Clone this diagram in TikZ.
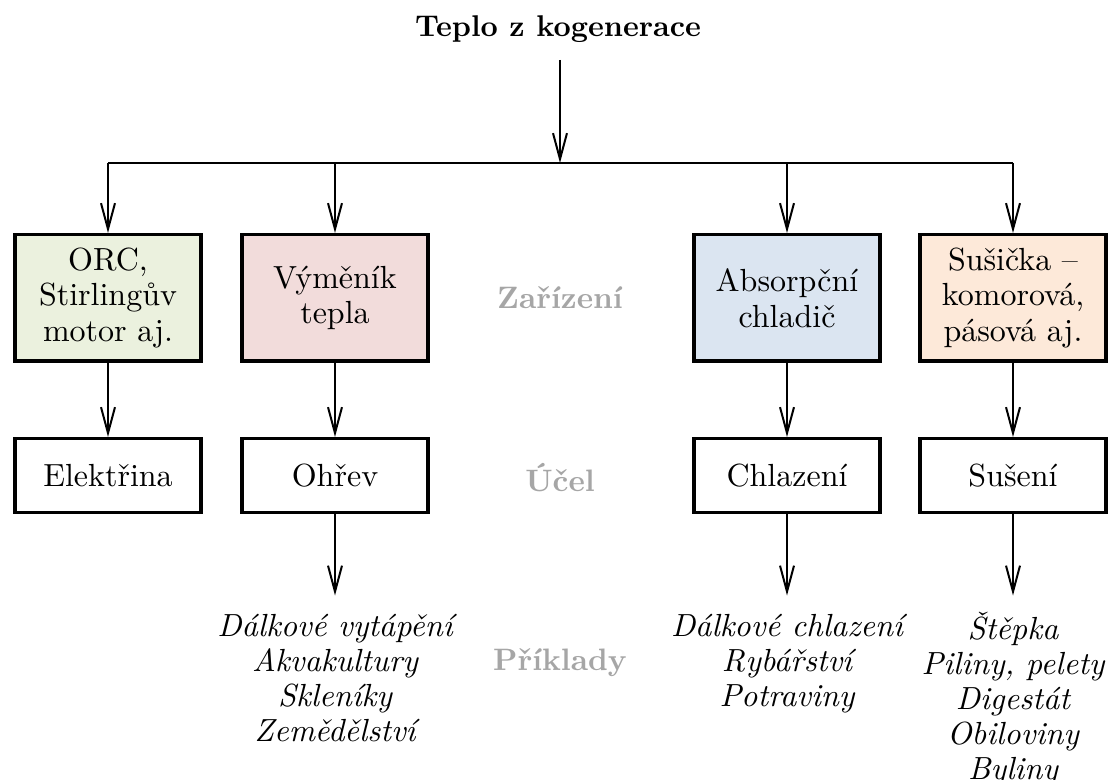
\documentclass[tikz,border=0pt]{standalone}
\usepackage{fontspec}
\setmainfont{lmroman10-regular.otf}[BoldFont=lmroman10-bold.otf, ItalicFont=lmroman10-italic.otf, BoldItalicFont=lmroman10-bolditalic.otf, Ligatures=TeX]
\usetikzlibrary{arrows.meta}
\definecolor{cgreen}{HTML}{EBF1DE}
\definecolor{cred}{HTML}{F2DCDB}
\definecolor{cblue}{HTML}{DBE5F1}
\definecolor{corange}{HTML}{FDE9D9}
\definecolor{labgray}{HTML}{A6A6A6}
\begin{document}
\begin{tikzpicture}[x=0.5pt,y=-0.5pt,
  every node/.style={font=\fontsize{16}{17.75}\selectfont},
  dev/.style={draw, line width=1.75pt, minimum width=93pt, minimum height=63.25pt, align=center, inner sep=2pt},
  use/.style={draw, line width=1.75pt, minimum width=93pt, minimum height=36.75pt, align=center, fill=white},
  lab/.style={text=labgray, font=\fontsize{15.5}{17.5}\selectfont\bfseries},
  ex/.style={align=center, anchor=north, inner xsep=0pt, inner ysep=8pt, font=\fontsize{16}{17.5}\selectfont\itshape},
  arr/.style={-{Straight Barb[length=13pt,width=7pt]}, line width=1pt},
  conn/.style={line width=1pt}]
\useasboundingbox (0,0) rectangle (1108,780);

\node[font=\fontsize{15}{17}\selectfont\bfseries, anchor=base] (title) at (558,37) {Teplo z kogenerace};
\coordinate (top) at (560,60);
\coordinate (j) at (560,163);
\draw[arr] (top) -- (j);

\node[dev, fill=cgreen]  (b1) at (108,298)  {ORC,\\Stirlingův\\motor aj.};
\node[dev, fill=cred]    (b2) at (335,298)  {Výměník\\tepla};
\node[dev, fill=cblue]   (b3) at (787,298)  {Absorpční\\chladič};
\node[dev, fill=corange] (b4) at (1013,298) {Sušička --\\komorová,\\pásová aj.};

\node[use] (u1) at (108,475.5)  {Elektřina};
\node[use] (u2) at (335,475.5)  {Ohřev};
\node[use] (u3) at (787,475.5)  {Chlazení};
\node[use] (u4) at (1013,475.5) {Sušení};

\node[lab] (l1) at (560,298) {Zařízení};
\node[lab] (l2) at (560,478) {Účel};
\node[lab] (l3) at (560,663) {Příklady};

\node[ex] (e2) at (335,595.5) {\strut Dálkové vytápění\\Akvakultury\\Skleníky\\Zemědělství};
\node[ex] (e3) at (787,595.5) {\strut Dálkové chlazení\\Rybářství\\Potraviny};
\node[ex] (e4) at (1013,595.5) {\strut Štěpka\\Piliny, pelety\\Digestát\\Obiloviny\\Byliny};

\coordinate (j1) at (b1.north |- j);
\coordinate (j2) at (b2.north |- j);
\coordinate (j3) at (b3.north |- j);
\coordinate (j4) at (b4.north |- j);
\draw[conn] (j1) -- (j4);
\foreach \i in {1,2,3,4} {
  \draw[arr] (j\i) -- (b\i.north);
  \draw[arr] (b\i) -- (u\i);
}
\foreach \i in {2,3,4} {
  \draw[arr] (u\i) -- (e\i.north);
}
\end{tikzpicture}
\end{document}
